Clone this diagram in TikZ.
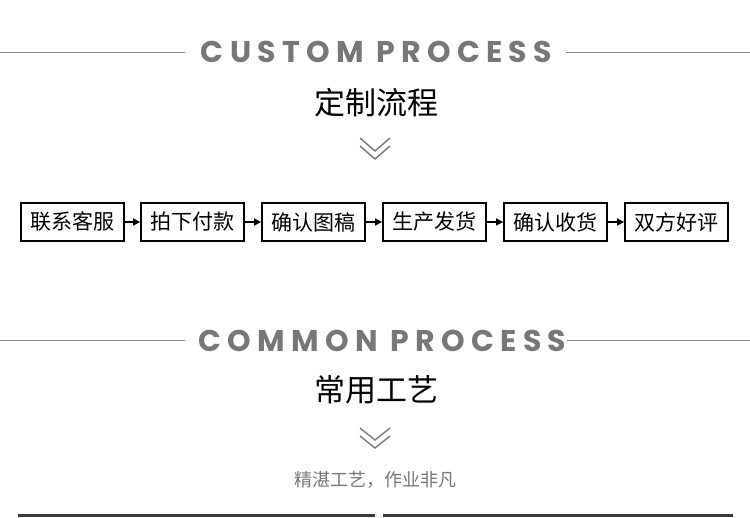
\documentclass[tikz,border=0pt]{standalone}
\usepackage{fontspec}
\usetikzlibrary{arrows.meta}
\newfontfamily\cjk{Noto Sans CJK SC}
\newfontfamily\titlefont[LetterSpace=21]{Poppins Bold}
\definecolor{titlegray}{HTML}{777777}
\definecolor{linegray}{HTML}{8A8A8A}
\definecolor{bargray}{HTML}{3A3A3A}
\tikzset{
  stepbox/.style={draw=black, line width=1.8pt, minimum width=103pt, minimum height=38pt, inner sep=0pt, font=\cjk\fontsize{21}{21}\selectfont},
  flow/.style={line width=1.6pt, -{Triangle[length=7pt,width=7pt]}},
  rule/.style={draw=linegray, line width=1pt},
  chev/.style={draw=titlegray, line width=1.4pt},
  entitle/.style={text=titlegray, font=\titlefont\fontsize{30}{30}\selectfont, inner sep=0pt, anchor=center},
  cntitle/.style={text=black, font=\cjk\fontsize{31}{31}\selectfont, inner sep=0pt},
}
\begin{document}
\begin{tikzpicture}[x=1pt,y=-1pt]
\useasboundingbox (0,0) rectangle (750,517);
% section 1
\node[entitle] (t1) at (376.5,52) {CUSTOM PROCESS};
\coordinate (l1a) at (0,52); \coordinate (l1b) at (185,52);
\coordinate (r1a) at (566,52); \coordinate (r1b) at (750,52);
\draw[rule] (l1a) -- (l1b);
\draw[rule] (r1a) -- (r1b);
\node[cntitle] (c1) at (376,103) {定制流程};
\draw[chev] (360,138) -- (375,151) -- (390,138);
\draw[chev] (360,146) -- (375,159) -- (390,146);
% flow
\node[stepbox] (b1) at (72.5,222) {联系客服};
\node[stepbox] (b2) at (192.5,222) {拍下付款};
\node[stepbox] (b3) at (313.5,222) {确认图稿};
\node[stepbox] (b4) at (434.5,222) {生产发货};
\node[stepbox] (b5) at (555.5,222) {确认收货};
\node[stepbox] (b6) at (676.5,222) {双方好评};
\draw[flow] (b1) -- (b2);
\draw[flow] (b2) -- (b3);
\draw[flow] (b3) -- (b4);
\draw[flow] (b4) -- (b5);
\draw[flow] (b5) -- (b6);
% section 2
\node[entitle] (t2) at (382.5,341) {COMMON PROCESS};
\coordinate (l2a) at (0,340); \coordinate (l2b) at (185,340);
\coordinate (r2a) at (567,340); \coordinate (r2b) at (750,340);
\draw[rule] (l2a) -- (l2b);
\draw[rule] (r2a) -- (r2b);
\node[cntitle] (c2) at (376,390) {常用工艺};
\draw[chev] (360,428) -- (375,440) -- (390,428);
\draw[chev] (360,436) -- (375,448) -- (390,436);
\node[text=titlegray, font=\cjk\fontsize{18}{18}\selectfont, inner sep=0pt] (sub) at (375,480) {精湛工艺，作业非凡};
\fill[bargray] (18,514) rectangle (375,517);
\fill[bargray] (383,514) rectangle (733,517);
\end{tikzpicture}
\end{document}
